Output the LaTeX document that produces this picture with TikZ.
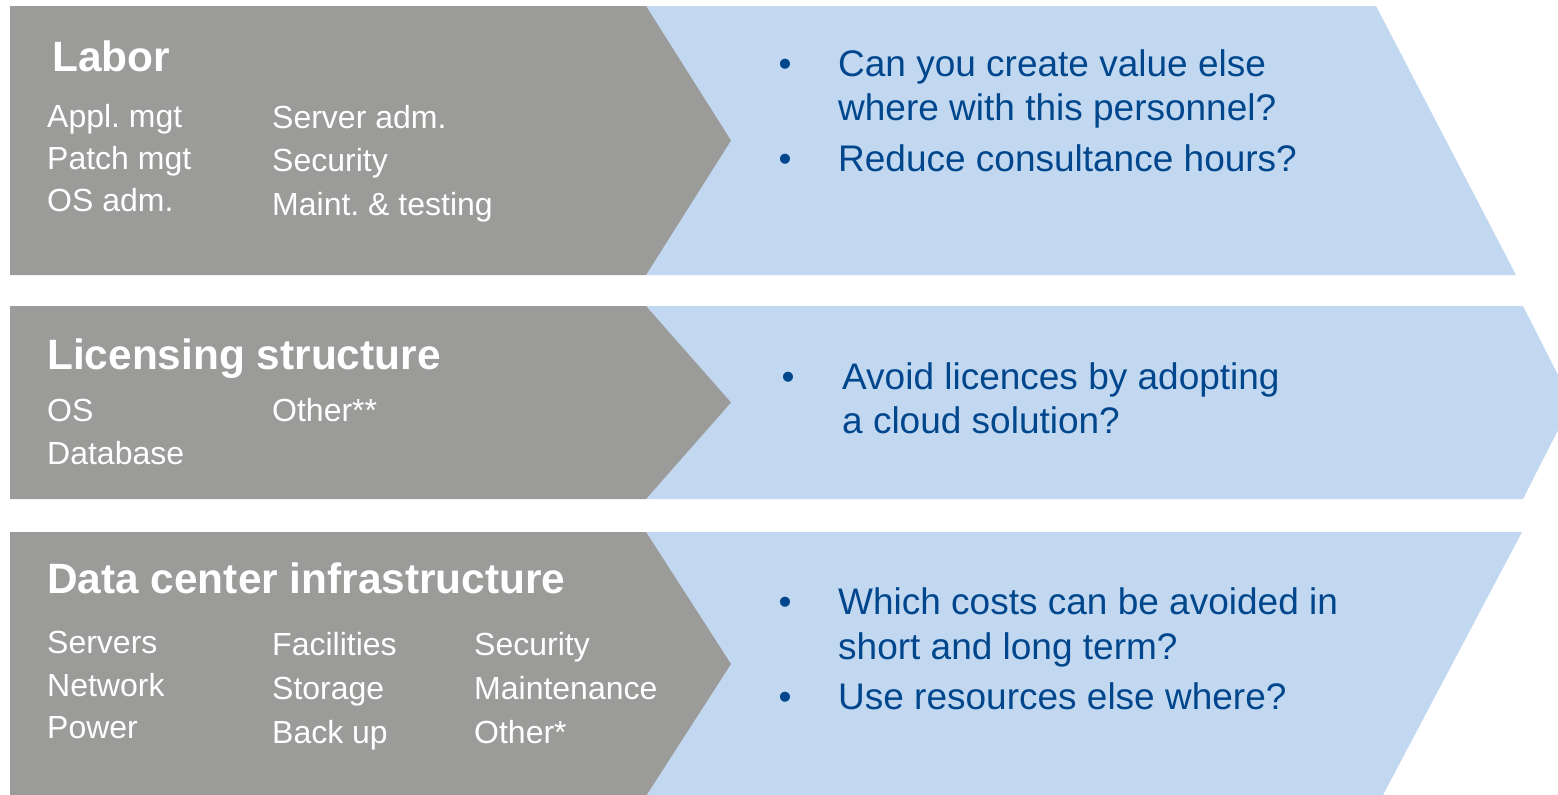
\documentclass[tikz,border=0pt]{standalone}
\usepackage{fontspec}
\setmainfont{Liberation Sans}
\frenchspacing
\definecolor{chevgray}{RGB}{155,155,154}
\definecolor{chevblue}{RGB}{194,216,240}
\definecolor{txtblue}{RGB}{0,70,140}
\tikzset{
  ttl/.style={anchor=base west, inner sep=0pt, text=white, font=\fontsize{42.4}{48}\selectfont\bfseries},
  itm/.style={anchor=base west, inner sep=0pt, text=white, font=\fontsize{32}{38}\selectfont},
  qst/.style={anchor=base west, inner sep=0pt, text=txtblue, font=\fontsize{37}{44}\selectfont},
  bul/.style={anchor=base, inner sep=0pt, text=txtblue, font=\fontsize{37}{44}\selectfont},
}
\begin{document}
\begin{tikzpicture}[x=1pt,y=-1pt]
\useasboundingbox (0,0) rectangle (1558,795);
\clip (0,0) rectangle (1558,795);
% blue chevrons
\fill[chevblue] (646,6) -- (1376,6) -- (1516,275) -- (646,275) -- cycle;
\fill[chevblue] (646,306) -- (1523,306) -- (1572,402.5) -- (1523,499) -- (646,499) -- cycle;
\fill[chevblue] (646,532) -- (1522,532) -- (1383,795) -- (646,795) -- cycle;
% gray chevrons
\fill[chevgray] (10,6) -- (646,6) -- (731,140.5) -- (646,275) -- (10,275) -- cycle;
\fill[chevgray] (10,306) -- (646,306) -- (731,402.5) -- (646,499) -- (10,499) -- cycle;
\fill[chevgray] (10,532) -- (646,532) -- (731,664) -- (646,796) -- (10,796) -- cycle;
% row 1
\node[ttl] (t1) at (52,71) {Labor};
\node[itm] (a1) at (47,127) {Appl. mgt};
\node[itm] (a2) at (47,169) {Patch mgt};
\node[itm] (a3) at (47,211) {OS adm.};
\node[itm] (b1) at (272,128) {Server adm.};
\node[itm] (b2) at (272,171) {Security};
\node[itm] (b3) at (272,215) {Maint. \& testing};
\node[bul] (p1) at (785,76) {•};
\node[qst] (q1) at (838,76) {Can you create value else};
\node[qst] (q2) at (838,120) {where with this personnel?};
\node[bul] (p2) at (785,171) {•};
\node[qst] (q3) at (838,171) {Reduce consultance hours?};
% row 2
\node[ttl] (t2) at (47,369) {Licensing structure};
\node[itm] (c1) at (47,421) {OS};
\node[itm] (c2) at (47,464) {Database};
\node[itm] (d1) at (272,421) {Other**};
\node[bul] (p3) at (788,389) {•};
\node[qst] (q4) at (842,389) {Avoid licences by adopting};
\node[qst] (q5) at (842,433) {a cloud solution?};
% row 3
\node[ttl] (t3) at (47,593) {Data center infrastructure};
\node[itm] (e1) at (47,653) {Servers};
\node[itm] (e2) at (47,696) {Network};
\node[itm] (e3) at (47,738) {Power};
\node[itm] (f1) at (272,655) {Facilities};
\node[itm] (f2) at (272,699) {Storage};
\node[itm] (f3) at (272,743) {Back up};
\node[itm] (g1) at (474,655) {Security};
\node[itm] (g2) at (474,699) {Maintenance};
\node[itm] (g3) at (474,743) {Other*};
\node[bul] (p4) at (785,614) {•};
\node[qst] (q6) at (838,614) {Which costs can be avoided in};
\node[qst] (q7) at (838,659) {short and long term?};
\node[bul] (p5) at (785,709) {•};
\node[qst] (q8) at (838,709) {Use resources else where?};
\end{tikzpicture}
\end{document}
